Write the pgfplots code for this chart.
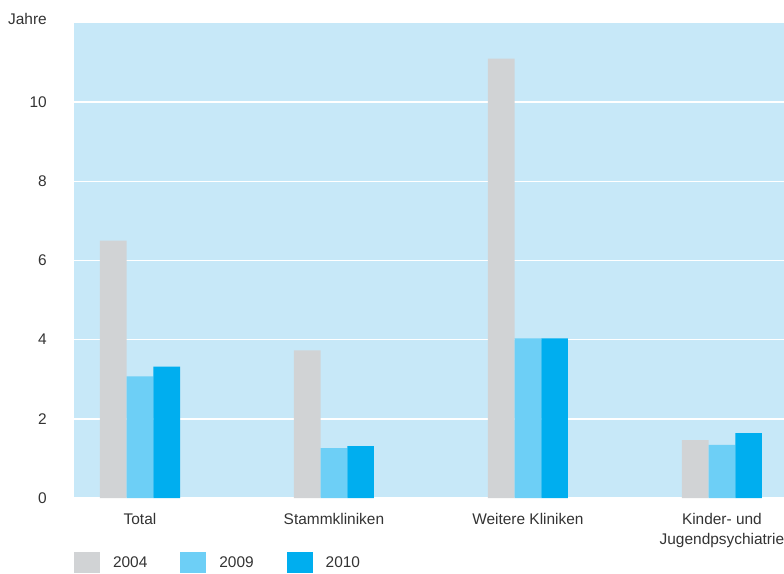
\documentclass[border=0pt]{standalone}
\usepackage{fontspec}
\setmainfont{Liberation Sans}
\usepackage{pgfplots}
\pgfplotsset{compat=1.18}

\definecolor{bgblue}{HTML}{C7E8F8}
\definecolor{c2004}{HTML}{D1D3D5}
\definecolor{c2009}{HTML}{6DCFF6}
\definecolor{c2010}{HTML}{00AEEF}
\definecolor{txt}{HTML}{333333}

\newcommand{\f}{\fontsize{15.5}{20}\selectfont}

\begin{document}
\begin{tikzpicture}
\path[use as bounding box] (0,0) rectangle (784bp,574bp);
\begin{axis}[
  at={(74bp,76bp)}, anchor=south west,
  scale only axis, width=710bp, height=475bp,
  xmin=-0.34, xmax=3.32, ymin=0, ymax=12,
  axis line style={draw=none},
  axis background/.style={fill=bgblue},
  ybar=0pt, bar width=26.7bp,
  xtick={0,1,2,3},
  xticklabels={Total, Stammkliniken, Weitere Kliniken, {Kinder- und\\Jugendpsychiatrie}},
  ytick={0,2,...,10},
  major tick length=0pt,
  tick style={draw=none},
  ymajorgrids, grid style={white, line width=1.5bp},
  /pgf/number format/assume math mode=true,
  tick label style={font=\f, text=txt},
  xticklabel style={align=center, anchor=north, inner sep=0pt, yshift=-15bp},
  yticklabel style={anchor=east, inner sep=0pt, xshift=-27bp},
  legend columns=3,
  legend style={at={(0,0)}, anchor=north west, yshift=-54bp,
    draw=none, fill=none, inner sep=0pt, outer sep=0pt,
    font=\f, text=txt,
    nodes={inner sep=0pt, anchor=west},
    /tikz/every odd column/.style={column sep=13bp},
    /tikz/every even column/.style={column sep=33bp}},
  legend image code/.code={\fill (0bp,-10.5bp) rectangle (26bp,10.5bp);},
  clip=false,
]
\addplot[fill=c2004, draw=none] coordinates {(0,6.5) (1,3.73) (2,11.1) (3,1.46)};
\addplot[fill=c2009, draw=none] coordinates {(0,3.07) (1,1.26) (2,4.03) (3,1.34)};
\addplot[fill=c2010, draw=none] coordinates {(0,3.32) (1,1.31) (2,4.03) (3,1.64)};
\legend{2004, 2009, 2010}
\node[anchor=base east, font=\f, text=txt, inner sep=0pt] at ([xshift=-27bp, yshift=-2bp]rel axis cs:0,1) {Jahre};
\end{axis}
\end{tikzpicture}
\end{document}
